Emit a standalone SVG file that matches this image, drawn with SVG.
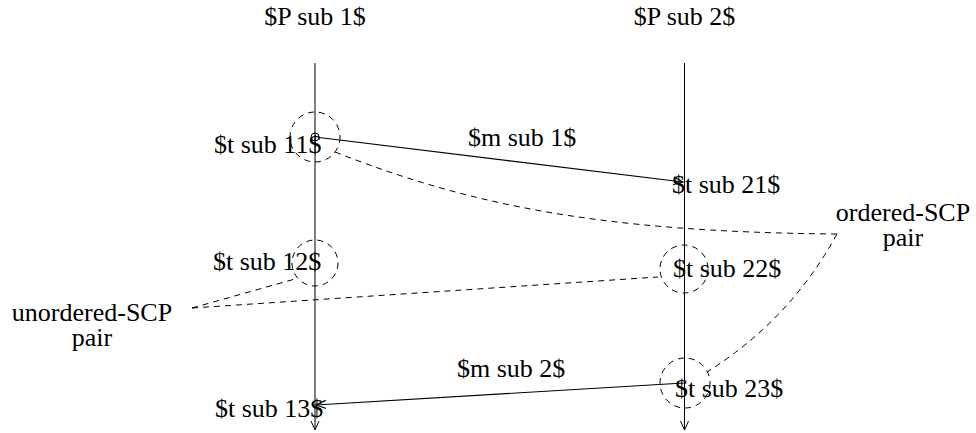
<svg xmlns="http://www.w3.org/2000/svg" width="976" height="433" viewBox="0 0 976 433">
<style>
text{font-family:'Liberation Serif','DejaVu Serif',serif;font-size:26px;fill:#000}
.life{stroke:#000;stroke-width:1;fill:none}
.msg{stroke:#000;stroke-width:1.2;fill:none}
.dash{stroke:#000;stroke-width:1;fill:none;stroke-dasharray:6 5}
.mid{text-anchor:middle}
</style>
<defs>
<marker id="arr" markerWidth="12" markerHeight="12" refX="10" refY="5" orient="auto" markerUnits="userSpaceOnUse" viewBox="0 0 12 10">
<polyline points="0,1 10,5 0,9" fill="none" stroke="#000" stroke-width="1.2"/>
</marker>
<marker id="vend" markerWidth="12" markerHeight="12" refX="9" refY="5" orient="auto" markerUnits="userSpaceOnUse" viewBox="0 0 12 10">
<polyline points="0,1 9,5 0,9" fill="none" stroke="#000" stroke-width="1"/>
</marker>
</defs>
<g font-family="Liberation Serif, serif">
<g id="P1">
<text class="mid" x="315" y="25">$P sub 1$</text>
<line class="life" x1="315" y1="63" x2="315" y2="430" marker-end="url(#vend)"/>
</g>
<g id="P2">
<text class="mid" x="684.5" y="25">$P sub 2$</text>
<line class="life" x1="684.5" y1="63" x2="684.5" y2="430" marker-end="url(#vend)"/>
</g>
<g id="t11">
<circle class="dash" cx="315" cy="137" r="25"/>
<circle cx="315" cy="137" r="4" fill="none" stroke="#000"/>
<text x="214" y="153">$t sub 11$</text>
</g>
<g id="t12">
<circle class="dash" cx="315" cy="263" r="23"/>
<text x="213" y="270">$t sub 12$</text>
</g>
<g id="t13">
<text x="215" y="417">$t sub 13$</text>
</g>
<g id="t21">
<text x="672" y="193">$t sub 21$</text>
</g>
<g id="t22">
<circle class="dash" cx="684" cy="269" r="24"/>
<text x="673" y="277">$t sub 22$</text>
</g>
<g id="t23">
<circle class="dash" cx="685" cy="383" r="25"/>
<text x="675" y="397">$t sub 23$</text>
</g>
<g id="ordered">
<text class="mid" x="903" y="221">ordered-SCP</text>
<text class="mid" x="903" y="246">pair</text>
</g>
<g id="unordered">
<text class="mid" x="92" y="321">unordered-SCP</text>
<text class="mid" x="92" y="346">pair</text>
</g>
<g id="connectors">
<line class="msg" x1="319" y1="137.5" x2="683" y2="182" marker-end="url(#arr)"/>
<text x="468" y="146">$m sub 1$</text>
<line class="msg" x1="684" y1="383" x2="316" y2="405" marker-end="url(#arr)"/>
<text x="457" y="377">$m sub 2$</text>
<path class="dash" d="M335,152 C470,205 600,232 837,234"/>
<path class="dash" d="M837,234 Q790,320 707,372"/>
<path class="dash" d="M192,308 L295,279"/>
<path class="dash" d="M192,308 L658,277"/>
</g>
</g>
</svg>
